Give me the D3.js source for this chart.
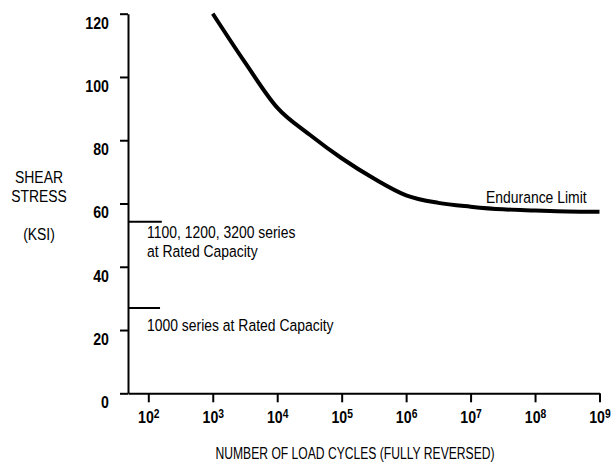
<!DOCTYPE html>
<html>
<head>
<meta charset="utf-8">
<script src="https://cdn.jsdelivr.net/npm/d3@7"></script>
<style>
  html, body { margin: 0; padding: 0; background: #fff; }
  svg { display: block; }
</style>
</head>
<body>
<svg id="chart" width="615" height="463"></svg>
<script>
// ---- data ----
const cycleExponents = [3, 3.5, 4, 4.5, 5, 5.5, 6, 6.5, 7, 7.5, 8, 8.5, 9];
const shearStress    = [120, 104.6, 90.3, 81.8, 74.3, 67.9, 62.6, 60.2, 59.0, 58.15, 57.8, 57.5, 57.4];
const yTicks = [0, 20, 40, 60, 80, 100, 120];
const xTickExponents = [2, 3, 4, 5, 6, 7, 8, 9];
const ratedLevels = [54.2, 27.0];
const ratedLevelEnds = [162, 152];   // cycles where each short level line ends
const ratedLabels = [["1100, 1200, 3200 series", "at Rated Capacity"], ["1000 series at Rated Capacity"]];
const yTitle = ["SHEAR", "STRESS", "", "(KSI)"];
const xTitle = "NUMBER OF LOAD CYCLES (FULLY REVERSED)";
const curveLabel = "Endurance Limit";

// ---- layout ----
const FONT = "'Liberation Sans', Arial, Helvetica, sans-serif";
const SQ = 0.82; // horizontal condensing for the narrow face
const NQ = 0.86; // condensing for bold numbers
const svg = d3.select("#chart");
const x = d3.scaleLog().domain([Math.pow(10, 1.685), 1e9]).range([128, 599.5]);
const y = d3.scaleLinear().domain([0, 120]).range([393.3, 13.7]);

function narrow(px, py, str, anchor, sq, size) {
  const g = svg.append("g").attr("transform", `translate(${px},${py}) scale(${sq || SQ},1)`);
  g.append("text").attr("x", 0).attr("y", 0)
    .attr("text-anchor", anchor || "start")
    .style("font-family", FONT).style("font-size", (size || 17) + "px").style("fill", "#000")
    .text(str);
  return g;
}

// y axis
const yAxis = d3.axisLeft(y).tickValues(yTicks).tickSize(8).tickSizeOuter(0).tickFormat(d3.format("d"));
const gy = svg.append("g").attr("transform", "translate(128,0)").call(yAxis);
gy.select(".domain").attr("stroke", "#000").attr("stroke-width", 2).attr("fill", "none");
gy.selectAll(".tick line").attr("stroke", "#000").attr("stroke-width", 2);
gy.selectAll(".tick text").attr("x", 0).attr("dy", null).attr("y", 0)
  .attr("transform", `translate(-19,14.3) scale(${NQ},1)`)
  .style("font-family", FONT).style("font-size", "16.5px").style("font-weight", "bold").style("fill", "#000");

// x axis
const xAxis = d3.axisBottom(x).tickValues(xTickExponents.map(e => Math.pow(10, e))).tickSize(9).tickSizeOuter(0).tickFormat("");
const gx = svg.append("g").attr("transform", "translate(0,393.3)").call(xAxis);
gx.select(".domain").attr("stroke", "#000").attr("stroke-width", 2).attr("fill", "none");
gx.selectAll(".tick line").attr("stroke", "#000").attr("stroke-width", 2);
gx.selectAll(".tick").each(function(d, i) {
  const t = d3.select(this).append("text").attr("text-anchor", "middle")
    .attr("transform", `translate(0,30) scale(${NQ},1)`)
    .style("font-family", FONT).style("font-size", "16.5px").style("font-weight", "bold").style("fill", "#000");
  t.append("tspan").text("10");
  t.append("tspan").style("font-size", "12px").attr("dy", -5.5).text(xTickExponents[i]);
});

// rated capacity lines
svg.selectAll("line.rated").data(ratedLevels).join("line").attr("class", "rated")
  .attr("x1", x.range()[0]).attr("x2", (d, i) => x(ratedLevelEnds[i]))
  .attr("y1", d => y(d)).attr("y2", d => y(d))
  .attr("stroke", "#000").attr("stroke-width", 2);

// labels for rated lines
ratedLabels.forEach((lines, i) => {
  const base = y(ratedLevels[i]) + (i === 0 ? 16 : 23);
  lines.forEach((s, j) => narrow(147, base + j * 19.6, s));
});

// S-N curve
const pts = cycleExponents.map((e, i) => [Math.pow(10, e), shearStress[i]]);
svg.append("path").datum(pts)
  .attr("d", d3.line().x(d => x(d[0])).y(d => y(d[1])).curve(d3.curveMonotoneX))
  .attr("fill", "none").attr("stroke", "#000").attr("stroke-width", 4);

narrow(486, 203.3, curveLabel);

// y title
const yBase = [183.3, 201.7, 0, 240];
yTitle.forEach((s, i) => { if (s) narrow(39, yBase[i], s, "middle"); });

// x title
narrow(355, 459, xTitle, "middle", 0.735, 16.5);
</script>
</body>
</html>
